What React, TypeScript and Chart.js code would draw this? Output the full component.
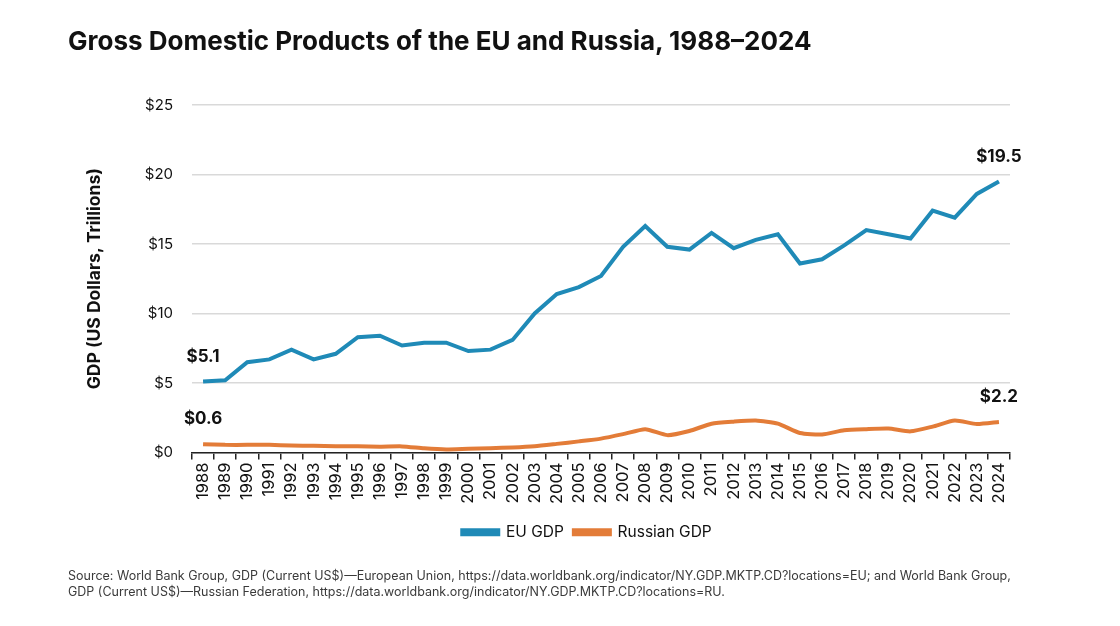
import { Chart, registerables } from 'chart.js';
import { useEffect, useRef } from 'react';

Chart.register(...registerables);

const years = [
  '1988', '1989', '1990', '1991', '1992', '1993', '1994', '1995', '1996', '1997',
  '1998', '1999', '2000', '2001', '2002', '2003', '2004', '2005', '2006', '2007',
  '2008', '2009', '2010', '2011', '2012', '2013', '2014', '2015', '2016', '2017',
  '2018', '2019', '2020', '2021', '2022', '2023', '2024',
];

// trillions of US dollars
const euGdp = [
  5.1, 5.2, 6.5, 6.7, 7.4, 6.7, 7.1, 8.3, 8.4, 7.7,
  7.9, 7.9, 7.3, 7.4, 8.1, 10.0, 11.4, 11.9, 12.7, 14.8,
  16.3, 14.8, 14.6, 15.8, 14.7, 15.3, 15.7, 13.6, 13.9, 14.9,
  16.0, 15.7, 15.4, 17.4, 16.9, 18.6, 19.5,
];

const russiaGdp = [
  0.6, 0.55, 0.55, 0.55, 0.5, 0.48, 0.45, 0.45, 0.42, 0.44,
  0.3, 0.22, 0.27, 0.31, 0.36, 0.45, 0.62, 0.8, 1.0, 1.32,
  1.68, 1.25, 1.55, 2.07, 2.22, 2.3, 2.08, 1.4, 1.3, 1.6,
  1.68, 1.72, 1.52, 1.86, 2.3, 2.05, 2.2,
];

const yTicks = [0, 5, 10, 15, 20, 25];

const FONT = 'Inter, "Noto Sans", sans-serif';
const EU_COLOR = '#1f8ab7';
const RU_COLOR = '#e37c38';

// writes $x.x above the first and last point of each line
const endLabels = {
  id: 'endLabels',
  afterDatasetsDraw(chart: Chart) {
    const { ctx } = chart;
    ctx.save();
    ctx.font = `700 17px ${FONT}`;
    ctx.fillStyle = '#111';
    ctx.textAlign = 'center';
    ctx.textBaseline = 'middle';
    chart.data.datasets.forEach((ds, i) => {
      const meta = chart.getDatasetMeta(i);
      const values = ds.data as number[];
      [0, values.length - 1].forEach((idx) => {
        const pt = meta.data[idx];
        ctx.fillText(`$${values[idx].toFixed(1)}`, pt.x, pt.y - 25);
      });
    });
    ctx.restore();
  },
};

// the legend sits a little left of the plot's centre in the original
const legendShift = {
  id: 'legendShift',
  afterLayout(chart: Chart) {
    const lg = chart.legend;
    if (lg) {
      lg.left = 164;
      lg.right = 1010;
    }
  },
};

function GdpChart() {
  const chartRef = useRef<HTMLCanvasElement>(null);

  useEffect(() => {
    document.body.style.margin = '0';
    const context = chartRef.current?.getContext('2d');
    if (!context) return undefined;

    const chartInstance = new Chart(context, {
      type: 'line',
      data: {
        labels: years,
        datasets: [
          {
            label: 'EU GDP',
            data: euGdp,
            borderColor: EU_COLOR,
            backgroundColor: EU_COLOR,
            borderWidth: 4,
            pointRadius: 0,
            tension: 0,
          },
          {
            label: 'Russian GDP',
            data: russiaGdp,
            borderColor: RU_COLOR,
            backgroundColor: RU_COLOR,
            borderWidth: 4,
            pointRadius: 0,
            tension: 0.2,
          },
        ],
      },
      plugins: [endLabels, legendShift],
      options: {
        animation: false,
        responsive: true,
        maintainAspectRatio: false,
        layout: { padding: { left: 84, right: 110, top: 105, bottom: 76 } },
        scales: {
          x: {
            offset: true,
            grid: {
              offset: true,
              drawOnChartArea: false,
              drawTicks: true,
              tickLength: 7,
              color: '#222',
              lineWidth: 1.5,
            },
            border: { display: true, color: '#222', width: 1.5 },
            ticks: {
              autoSkip: false,
              minRotation: 90,
              maxRotation: 90,
              padding: 3,
              color: '#111',
              font: { family: FONT, size: 16.5 },
            },
            afterFit(scale) {
              scale.height = 62;
            },
          },
          y: {
            min: 0,
            max: 25,
            afterBuildTicks(scale) {
              scale.ticks = yTicks.map((v) => ({ value: v }));
            },
            grid: { color: '#d9d9d9', lineWidth: 1.5, drawTicks: false },
            border: { display: false },
            ticks: {
              padding: 19,
              color: '#111',
              font: { family: FONT, size: 15 },
              callback: (v) => `$${v}`,
            },
            title: {
              display: true,
              text: 'GDP (US Dollars, Trillions)',
              color: '#111',
              font: { family: FONT, size: 17.5, weight: 'bold' },
              padding: { top: 0, bottom: 0 },
            },
            afterFit(scale) {
              scale.width = 108;
            },
          },
        },
        plugins: {
          legend: {
            position: 'bottom',
            labels: {
              boxWidth: 36,
              boxHeight: 4,
              padding: 10,
              color: '#111',
              font: { family: FONT, size: 15.5 },
            },
          },
          tooltip: { enabled: false },
        },
      },
    });

    return () => {
      chartInstance.destroy();
    };
  }, []);

  return (
    <div style={{ position: 'relative', width: 1120, height: 626, background: '#fff', fontFamily: FONT }}>
      <div style={{ position: 'absolute', inset: 0 }}>
        <canvas ref={chartRef}></canvas>
      </div>
      <div
        style={{
          position: 'absolute',
          left: 68,
          top: 25,
          fontSize: 26,
          fontWeight: 700,
          color: '#111',
          whiteSpace: 'nowrap',
        }}
      >
        Gross Domestic Products of the EU and Russia, 1988–2024
      </div>
      <div
        style={{
          position: 'absolute',
          left: 68,
          top: 568,
          fontSize: 12.5,
          lineHeight: '16px',
          color: '#3a3a3a',
          whiteSpace: 'nowrap',
        }}
      >
        Source: World Bank Group, GDP (Current US$)—European Union, https://data.worldbank.org/indicator/NY.GDP.MKTP.CD?locations=EU; and World Bank Group,
        <br />
        GDP (Current US$)—Russian Federation, https://data.worldbank.org/indicator/NY.GDP.MKTP.CD?locations=RU.
      </div>
    </div>
  );
}

export default function App() {
  return <GdpChart />;
}
